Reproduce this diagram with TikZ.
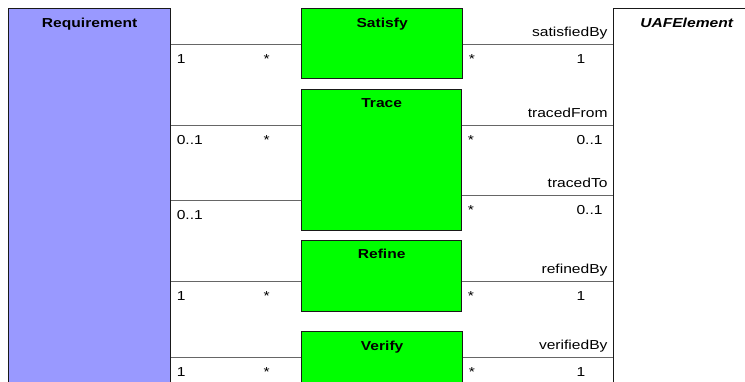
\documentclass[tikz,border=0pt]{standalone}
\usepackage{fontspec}
\setmainfont[FakeStretch=1.2]{Liberation Sans}
\usetikzlibrary{positioning}
\definecolor{reqBlue}{HTML}{9999FF}
\definecolor{relGreen}{HTML}{00FF00}
\newcommand\uafSize{\fontsize{13}{15}\selectfont}

\begin{document}
\begin{tikzpicture}[x=1pt,y=-1pt,
    font=\uafSize,
    umlCls/.style={rectangle,draw=black!90,line width=1.3pt,anchor=north west,inner sep=0pt},
    umlTitle/.style={anchor=base,inner sep=0pt,font=\uafSize\bfseries},
    umlAssoc/.style={draw=black!60,line width=1pt},
    umlMult/.style={inner sep=0pt,anchor=base west,yshift=-19pt},
    umlRole/.style={inner sep=0pt,anchor=base east,xshift=-5pt,yshift=8pt},
]
\useasboundingbox (0,0) rectangle (745,381);
\clip (0,0) rectangle (745,381);
% classes
\node[umlCls,fill=reqBlue,minimum width=162pt,minimum height=420pt] (Req) at (8,8) {};
\node[umlCls,fill=white,minimum width=146pt,minimum height=420pt] (UAF) at (613,8) {};
\node[umlCls,fill=relGreen,minimum width=161pt,minimum height=70pt] (Sat) at (301,8) {};
\node[umlCls,fill=relGreen,minimum width=160pt,minimum height=141pt] (Trc) at (301,89) {};
\node[umlCls,fill=relGreen,minimum width=160pt,minimum height=71pt] (Ref) at (301,240) {};
\node[umlCls,fill=relGreen,minimum width=161pt,minimum height=80pt] (Ver) at (301,331) {};
\node[umlTitle] (ReqT) at ([yshift=-19pt]Req.north) {Requirement};
\node[umlTitle,font=\uafSize\bfseries\itshape] (UAFT) at ([yshift=-19pt]UAF.north) {UAFElement};
\node[umlTitle] (SatT) at ([yshift=-19pt]Sat.north) {Satisfy};
\node[umlTitle] (TrcT) at ([yshift=-18pt]Trc.north) {Trace};
\node[umlTitle] (RefT) at ([yshift=-18pt]Ref.north) {Refine};
\node[umlTitle] (VerT) at ([yshift=-19pt]Ver.north) {Verify};
% association levels
\coordinate (lnSat) at (0,44);
\coordinate (lnTrA) at (0,125);
\coordinate (lnTrB) at (0,200);
\coordinate (lnTrC) at (0,195);
\coordinate (lnRef) at (0,281);
\coordinate (lnVer) at (0,357);
% Requirement side
\draw[umlAssoc] (Req.east |- lnSat) -- (Sat.west |- lnSat)
    node[umlMult,at start,xshift=5pt] (mSatA) {1}
    node[umlMult,at end,xshift=-38pt] (mSatB) {*};
\draw[umlAssoc] (Req.east |- lnTrA) -- (Trc.west |- lnTrA)
    node[umlMult,at start,xshift=5pt] (mTrcA) {0..1}
    node[umlMult,at end,xshift=-38pt] (mTrcB) {*};
\draw[umlAssoc] (Req.east |- lnTrB) -- (Trc.west |- lnTrB)
    node[umlMult,at start,xshift=5pt] (mTrcC) {0..1};
\draw[umlAssoc] (Req.east |- lnRef) -- (Ref.west |- lnRef)
    node[umlMult,at start,xshift=5pt] (mRefA) {1}
    node[umlMult,at end,xshift=-38pt] (mRefB) {*};
\draw[umlAssoc] (Req.east |- lnVer) -- (Ver.west |- lnVer)
    node[umlMult,at start,xshift=5pt] (mVerA) {1}
    node[umlMult,at end,xshift=-38pt] (mVerB) {*};
% UAFElement side
\draw[umlAssoc] (Sat.east |- lnSat) -- (UAF.west |- lnSat)
    node[umlMult,at start,xshift=5pt] (mSatC) {*}
    node[umlMult,at end,xshift=-37pt] (mSatD) {1}
    node[umlRole,at end] (rSat) {satisfiedBy};
\draw[umlAssoc] (Trc.east |- lnTrA) -- (UAF.west |- lnTrA)
    node[umlMult,at start,xshift=5pt] (mTrcD) {*}
    node[umlMult,at end,xshift=-37pt] (mTrcE) {0..1}
    node[umlRole,at end] (rTrcA) {tracedFrom};
\draw[umlAssoc] (Trc.east |- lnTrC) -- (UAF.west |- lnTrC)
    node[umlMult,at start,xshift=5pt] (mTrcF) {*}
    node[umlMult,at end,xshift=-37pt] (mTrcG) {0..1}
    node[umlRole,at end] (rTrcB) {tracedTo};
\draw[umlAssoc] (Ref.east |- lnRef) -- (UAF.west |- lnRef)
    node[umlMult,at start,xshift=5pt] (mRefC) {*}
    node[umlMult,at end,xshift=-37pt] (mRefD) {1}
    node[umlRole,at end] (rRef) {refinedBy};
\draw[umlAssoc] (Ver.east |- lnVer) -- (UAF.west |- lnVer)
    node[umlMult,at start,xshift=5pt] (mVerC) {*}
    node[umlMult,at end,xshift=-37pt] (mVerD) {1}
    node[umlRole,at end] (rVer) {verifiedBy};
\end{tikzpicture}
\end{document}
